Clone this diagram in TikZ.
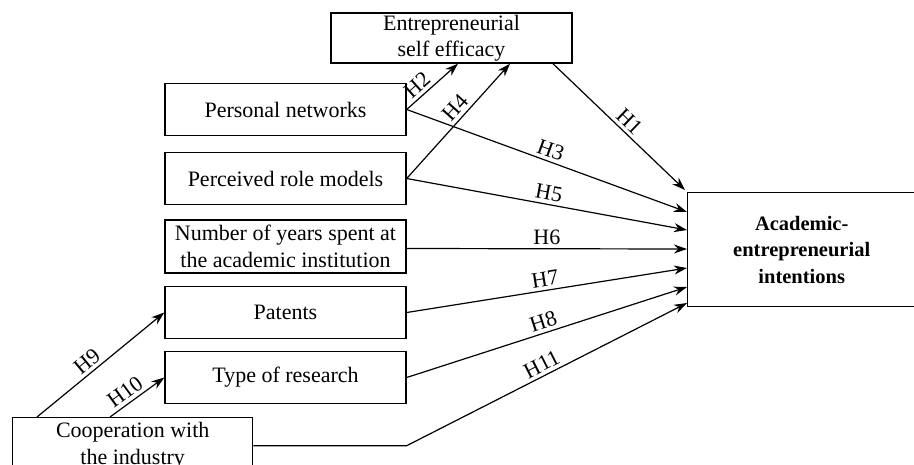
\documentclass[tikz,border=0pt]{standalone}
\usepackage{fontspec}
\setmainfont{Liberation Serif}
\usetikzlibrary{arrows.meta}
\begin{document}
\begin{tikzpicture}[x=1pt,y=-1pt,
  box/.style={draw,line width=1.4pt,align=center,inner sep=0pt,
    font=\fontsize{22}{27}\selectfont},
  leftbox/.style={box,minimum width=241pt,minimum height=52pt},
  conn/.style={line width=1.2pt,-{Stealth[length=13pt,width=9pt]}},
  lab/.style={font=\fontsize{22}{25}\selectfont,sloped,above,inner sep=3.5pt}]
\useasboundingbox (0,0) rectangle (914,464);
\node[box,minimum width=241pt,minimum height=50pt] (ese) at (451.5,38) {Entrepreneurial\\[-1pt]self efficacy};
\node[leftbox] (pn) at (285.5,109.5) {Personal networks};
\node[leftbox] (prm) at (285.5,178.5) {Perceived role models};
\node[leftbox,minimum height=53pt] (ny) at (285.5,246.5) {Number of years spent at\\the academic institution};
\node[leftbox] (pat) at (285.5,312.5) {Patents};
\node[leftbox] (tor) at (285.5,377.5) {Type of research};
\node[box,minimum width=240pt,minimum height=56pt,anchor=north west] (coop) at (12,417) {Cooperation with\\the industry};
\node[box,minimum width=228pt,minimum height=114pt,anchor=north west,
  font=\fontsize{20.5}{26.5}\selectfont\bfseries] (aei) at (687,192) {Academic-\\entrepreneurial\\intentions};
\coordinate (bend) at (coop.east -| pat.east);
\draw[conn] (pn.east) -- node[lab,pos=0.35] {H2} ([xshift=6.5pt]ese.south);
\draw[conn] (prm.east) -- node[lab,pos=0.55] {H4} ([xshift=58.5pt]ese.south);
\draw[conn] ([xshift=101.5pt]ese.south) -- node[lab,pos=0.52] {H1} ([xshift=-2pt,yshift=2pt]aei.north west);
\draw[conn] (pn.east) -- node[lab,pos=0.5] {H3} ([yshift=-20pt]aei.north west);
\draw[conn] (prm.east) -- node[lab,pos=0.5] {H5} ([yshift=-38pt]aei.north west);
\draw[conn] ([yshift=-2pt]ny.east) -- node[lab,pos=0.5] {H6} ([yshift=-57pt]aei.north west);
\draw[conn] (pat.east) -- node[lab,pos=0.5] {H7} ([yshift=-76pt]aei.north west);
\draw[conn] (tor.east) -- node[lab,pos=0.5] {H8} ([yshift=-95pt]aei.north west);
\draw[conn] (coop.east) -- (bend) -- node[lab,pos=0.5] {H11} ([yshift=-111pt]aei.north west);
\draw[conn] ([xshift=25pt]coop.north west) -- node[lab,pos=0.45] {H9} (pat.west);
\draw[conn] ([xshift=98pt]coop.north west) -- node[lab,pos=0.4] {H10} (tor.west);
\end{tikzpicture}
\end{document}
